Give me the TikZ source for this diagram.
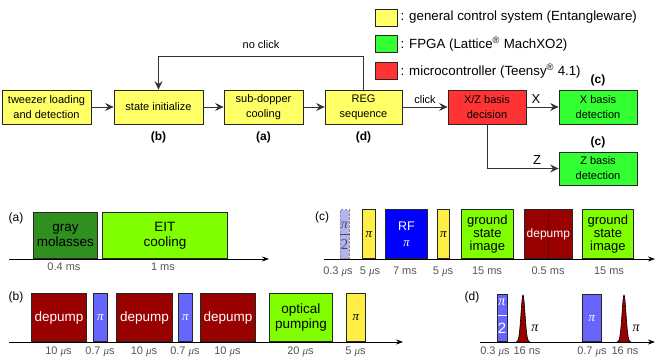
\documentclass[tikz,border=0pt]{standalone}
\usepackage{fontspec}
\setmainfont{Liberation Sans}
\newfontfamily\greekfont{Liberation Serif}
\newcommand{\pisym}{{\greekfont\itshape π}}
\newcommand{\musym}{{\greekfont\itshape μ}}
\usetikzlibrary{arrows.meta,positioning}
\definecolor{ctrlyellow}{HTML}{FFFF66}
\definecolor{fpgagreen}{HTML}{33FF33}
\definecolor{mcured}{HTML}{FF3333}
\definecolor{graygreen}{HTML}{2F8F1F}
\definecolor{limegreen}{HTML}{80FF00}
\definecolor{darkred}{HTML}{990000}
\definecolor{pulseblue}{HTML}{6666FF}
\definecolor{rfblue}{HTML}{0000FF}
\definecolor{piyellow}{HTML}{FFEE44}
\definecolor{lightpulse}{HTML}{B3B3F2}
\definecolor{timegray}{HTML}{555555}
\tikzset{
  flowbox/.style={draw=black!85, line width=0.8pt, align=center, minimum height=34pt, inner sep=0pt, font=\fontsize{11}{15}\selectfont},
  keybox/.style={draw=black!85, line width=0.8pt, minimum width=22pt, minimum height=17pt, inner sep=0pt},
  legend/.style={anchor=west, inner sep=1pt, font=\fontsize{13.3}{15}\selectfont},
  flowarrow/.style={-{Stealth[length=8.5pt,width=8pt,inset=3pt]}, line width=0.9pt, draw=black!80},
  timeaxis/.style={-{Stealth[length=7pt,width=5pt]}, line width=0.8pt},
  pulse/.style={draw=black!85, line width=0.8pt, anchor=south west, inner sep=0pt, align=center, font=\fontsize{13.5}{15.5}\selectfont},
  duration/.style={anchor=base, text=timegray, font=\fontsize{11}{13}\selectfont},
  tag/.style={font=\bfseries\fontsize{12}{14}\selectfont},
  panel/.style={font=\fontsize{12}{14}\selectfont},
}
\begin{document}
\begin{tikzpicture}[x=1pt, y=-1pt]
\useasboundingbox (0,0) rectangle (664,363);

\node[keybox, fill=ctrlyellow] (kctrl) at (386,17.5) {};
\node[keybox, fill=fpgagreen] (kfpga) at (386,44) {};
\node[keybox, fill=mcured] (kmcu) at (386,71) {};
\node[legend, right=2pt of kctrl] (lctrl) {: general control system (Entangleware)};
\node[legend, right=2pt of kfpga] (lfpga) {: FPGA (Lattice\textsuperscript{\textregistered} MachXO2)};
\node[legend, right=2pt of kmcu] (lmcu) {: microcontroller (Teensy\textsuperscript{\textregistered} 4.1)};

\node[flowbox, fill=ctrlyellow, minimum width=89pt] (load) at (46.5,107) {tweezer loading\\and detection};
\node[flowbox, fill=ctrlyellow, minimum width=89pt] (init) at (158.5,107) {state initialize};
\node[flowbox, fill=ctrlyellow, minimum width=79pt] (cool) at (263.5,107) {sub-dopper\\cooling};
\node[flowbox, fill=ctrlyellow, minimum width=77pt] (reg) at (363.5,107) {REG\\sequence};
\node[flowbox, fill=mcured, minimum width=78pt] (basis) at (487,107) {X/Z basis\\decision};
\node[flowbox, fill=fpgagreen, minimum width=78pt] (xdet) at (598,107) {X basis\\detection};
\node[flowbox, fill=fpgagreen, minimum width=78pt, minimum height=33pt] (zdet) at (598,168.5) {Z basis\\detection};

\node[tag, below=4pt of init] (tagb) {(b)};
\node[tag, below=4pt of cool] (taga) {(a)};
\node[tag, below=4pt of reg] (tagd) {(d)};
\node[tag, above=0pt of xdet] (tagcx) {(c)};
\node[tag, above=0pt of zdet] (tagcz) {(c)};

\draw[flowarrow] (load) -- (init);
\draw[flowarrow] (init) -- (cool);
\draw[flowarrow] (cool) -- (reg);
\draw[flowarrow] (reg) -- node[above, font=\fontsize{11}{13}\selectfont] {click} (basis);
\draw[flowarrow] (basis) -- node[pos=0.3, above, font=\fontsize{13}{15}\selectfont] {X} (xdet);
\draw[flowarrow] (basis) |- node[pos=0.85, above, font=\fontsize{13}{15}\selectfont] {Z} (zdet);
\draw[flowarrow] (reg.north) -- ++(0,-33) -| node[pos=0.25, above=4pt, font=\fontsize{11}{13}\selectfont] {no click} (init.north);

\node[panel] (pa) at (16,218) {(a)};
\draw[timeaxis] (9,259) -- (269,259);
\node[pulse, fill=graygreen, minimum width=64pt, minimum height=46pt] (gm) at (33,259) {gray\\molasses};
\node[pulse, fill=limegreen, minimum width=125pt, minimum height=46pt] (eit) at (102,259) {EIT\\cooling};
\node[duration] (ta1) at (64,271) {0.4 ms};
\node[duration] (ta2) at (163,271) {1 ms};

\node[panel] (pb) at (16,297) {(b)};
\draw[timeaxis] (9,342) -- (403,342);
\node[pulse, fill=darkred, text=white, minimum width=55pt, minimum height=48pt] (dp1) at (31,342) {depump};
\node[pulse, fill=pulseblue, text=white, minimum width=14pt, minimum height=48pt, font=\fontsize{13}{14}\selectfont] (pb1) at (93,342) {\pisym};
\node[pulse, fill=darkred, text=white, minimum width=56pt, minimum height=48pt] (dp2) at (116,342) {depump};
\node[pulse, fill=pulseblue, text=white, minimum width=14pt, minimum height=48pt, font=\fontsize{13}{14}\selectfont] (pb2) at (178,342) {\pisym};
\node[pulse, fill=darkred, text=white, minimum width=55pt, minimum height=48pt] (dp3) at (200,342) {depump};
\node[pulse, fill=limegreen, minimum width=63pt, minimum height=48pt] (op) at (269,342) {optical\\pumping};
\node[pulse, fill=piyellow, minimum width=19pt, minimum height=48pt, font=\fontsize{13}{14}\selectfont] (pb3) at (346,342) {\pisym};
\node[duration] (tb1) at (58.5,354) {10 \musym s};
\node[duration] (tb2) at (100,354) {0.7 \musym s};
\node[duration] (tb3) at (144,354) {10 \musym s};
\node[duration] (tb4) at (185,354) {0.7 \musym s};
\node[duration] (tb5) at (227.5,354) {10 \musym s};
\node[duration] (tb6) at (300.5,354) {20 \musym s};
\node[duration] (tb7) at (355.5,354) {5 \musym s};

\node[panel] (pc) at (322,217) {(c)};
\draw[timeaxis] (324,259) -- (655,259);
\node[pulse, fill=lightpulse, draw=black!45, dashed, dash pattern=on 2.5pt off 1.5pt, minimum width=9pt, minimum height=49pt] (hc) at (340,259) {};
\node[text=black!70, font=\fontsize{14}{15}\selectfont, inner sep=0pt] (hcn) at (344.5,225) {\pisym};
\draw[black!70, line width=0.6pt] (339.5,234) -- (349.5,234);
\node[text=black!70, font=\fontsize{15}{16}\selectfont, inner sep=0pt] (hcd) at (344.5,245) {\greekfont 2};
\node[pulse, fill=piyellow, minimum width=13pt, minimum height=49pt, font=\fontsize{13}{14}\selectfont] (pc1) at (362,259) {\pisym};
\node[pulse, fill=rfblue, text=white, minimum width=42pt, minimum height=49pt, font=\fontsize{12.5}{16}\selectfont] (rf) at (385,259) {RF\\\pisym};
\node[pulse, fill=piyellow, minimum width=12pt, minimum height=49pt, font=\fontsize{13}{14}\selectfont] (pc2) at (437,259) {\pisym};
\node[pulse, fill=limegreen, minimum width=52pt, minimum height=49pt, font=\fontsize{13}{13.3}\selectfont] (gs1) at (461,259) {ground\\state\\image};
\node[pulse, fill=darkred, minimum width=48pt, minimum height=49pt] (dpc) at (524,259) {};
\draw[darkred!70!black, line width=0.5pt] (dpc.north) -- (dpc.south);
\node[text=white, font=\fontsize{12}{14}\selectfont, inner sep=0pt] (dpct) at (dpc) {depump};
\node[pulse, fill=limegreen, minimum width=51pt, minimum height=49pt, font=\fontsize{13}{13.3}\selectfont] (gs2) at (582,259) {ground\\state\\image};
\node[duration] (tc1) at (338,275) {0.3 \musym s};
\node[duration] (tc2) at (370,275) {5 \musym s};
\node[duration] (tc3) at (405,275) {7 ms};
\node[duration] (tc4) at (443,275) {5 \musym s};
\node[duration] (tc5) at (487,275) {15 ms};
\node[duration] (tc6) at (548,275) {0.5 ms};
\node[duration] (tc7) at (609,275) {15 ms};

\node[panel] (pd) at (472,297) {(d)};
\draw[timeaxis] (480,342) -- (655,342);
\node[pulse, fill=pulseblue, minimum width=10pt, minimum height=47pt] (hd) at (497,342) {};
\node[text=white, font=\fontsize{14}{15}\selectfont, inner sep=0pt] (hdn) at (502,302) {\pisym};
\draw[white, line width=0.7pt] (497.5,315) -- (506.5,315);
\node[text=white, font=\fontsize{15}{16}\selectfont, inner sep=0pt] (hdd) at (502,328) {2};
\draw[fill=darkred, line width=0.6pt] plot[domain=-7:7, samples=41, smooth] ({523+\x},{342-47*exp(-0.125*(\x)*(\x))});
\node[font=\fontsize{14}{15}\selectfont] (pk1) at (535,328) {\pisym};
\node[pulse, fill=pulseblue, text=white, minimum width=19pt, minimum height=47pt, font=\fontsize{13}{14}\selectfont] (pd1) at (582,342) {\pisym};
\draw[fill=darkred, line width=0.6pt] plot[domain=-7:7, samples=41, smooth] ({624+\x},{342-47*exp(-0.125*(\x)*(\x))});
\node[font=\fontsize{14}{15}\selectfont] (pk2) at (636,328) {\pisym};
\node[duration] (td1) at (495,354) {0.3 \musym s};
\node[duration] (td2) at (527,354) {16 ns};
\node[duration] (td3) at (592,354) {0.7 \musym s};
\node[duration] (td4) at (625,354) {16 ns};
\end{tikzpicture}
\end{document}
